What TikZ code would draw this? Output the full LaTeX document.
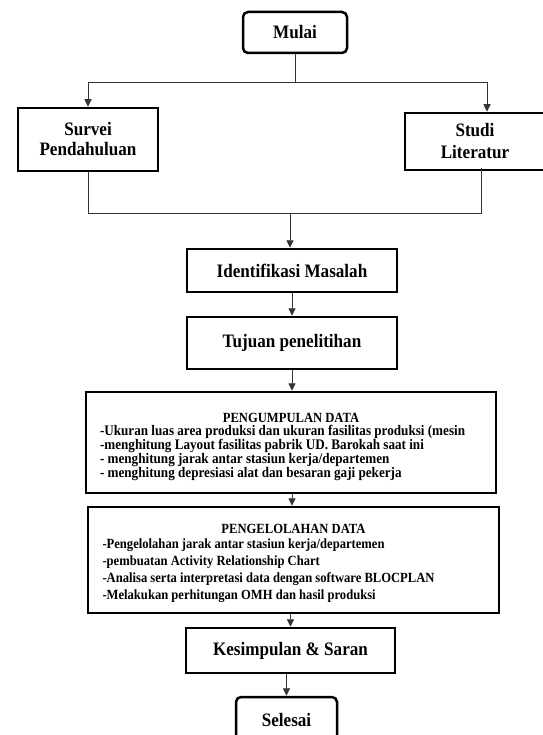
\documentclass[tikz,border=0pt]{standalone}
\usepackage{fontspec}
\setmainfont{Liberation Serif}[FakeStretch=0.9]
\usetikzlibrary{arrows.meta}

\begin{document}
\begin{tikzpicture}[x=1pt, y=-1pt,
    box/.style={draw, line width=2.5pt, inner sep=0pt, align=center,
      font=\bfseries\fontsize{19}{20}\selectfont},
    term/.style={box, rounded corners=5pt},
    databox/.style={draw, line width=2.5pt, inner sep=0pt, align=center},
    link/.style={line width=0.9pt, draw=black!80},
    arr/.style={link, -{Triangle[length=7.5pt,width=7pt]}}]
  \useasboundingbox (0,0) rectangle (542,735);
  \node[term, minimum width=104, minimum height=41] (mulai) at (295,32.5) {Mulai};
  \node[box, minimum width=140, minimum height=63] (survei) at (88,139.5) {Survei\\Pendahuluan};
  \node[box, minimum width=170, minimum height=57, font=\bfseries\fontsize{19}{22}\selectfont]
    (studi) at (490,141.5) {Studi\hspace*{30pt}\\Literatur\hspace*{30pt}};
  \node[box, minimum width=210, minimum height=43] (ident) at (292,270.5) {Identifikasi Masalah};
  \node[box, minimum width=210, minimum height=52] (tujuan) at (292,343) {Tujuan penelitihan};
  \node[databox, minimum width=410, minimum height=101, font=\bfseries\fontsize{14}{13}\selectfont]
    (kumpul) at (291,442.5)
    {\rule{0pt}{18pt}PENGUMPULAN DATA\\
     \parbox[t]{382pt}{\fontsize{14.6}{14.2}\selectfont
      -Ukuran luas area produksi dan ukuran fasilitas produksi (mesin\\
      -menghitung Layout fasilitas pabrik UD. Barokah saat ini\\
      - menghitung jarak antar stasiun kerja/departemen\\
      - menghitung depresiasi alat dan besaran gaji pekerja}};
  \node[databox, minimum width=411, minimum height=106, font=\bfseries\fontsize{14}{15}\selectfont]
    (olah) at (293.5,560)
    {\rule{0pt}{16pt}PENGELOLAHAN DATA\\
     \parbox[t]{382pt}{\fontsize{14}{17}\selectfont
      -Pengelolahan jarak antar stasiun kerja/departemen\\
      -pembuatan Activity Relationship Chart\\
      -Analisa serta interpretasi data dengan software BLOCPLAN\\
      -Melakukan perhitungan OMH dan hasil produksi}};
  \node[box, minimum width=209, minimum height=45] (simpul) at (290.5,650.5) {Kesimpulan \& Saran};
  \node[term, minimum width=101, minimum height=45] (selesai) at (286.5,719.5) {Selesai};
  \coordinate (j1) at (295,82);
  \coordinate (j2) at (290,213);
  \draw[link] (mulai) -- (j1);
  \draw[arr] (j1) -| (survei);
  \draw[arr] (j1) -| ([xshift=-3pt]studi.north);
  \draw[link] (survei) |- (j2);
  \draw[link] ([xshift=-9pt,yshift=3pt]studi.south) |- (j2);
  \draw[arr] (j2) -- (j2 |- ident.north);
  \draw[arr] (ident) -- (tujuan);
  \draw[arr] (tujuan.south) -- (tujuan.south |- kumpul.north);
  \draw[arr] (kumpul.south -| tujuan.south) -- (tujuan.south |- olah.north);
  \draw[arr] (olah.south -| simpul.north) -- (simpul.north);
  \draw[arr] (simpul.south -| selesai.north) -- (selesai.north);
\end{tikzpicture}
\end{document}
